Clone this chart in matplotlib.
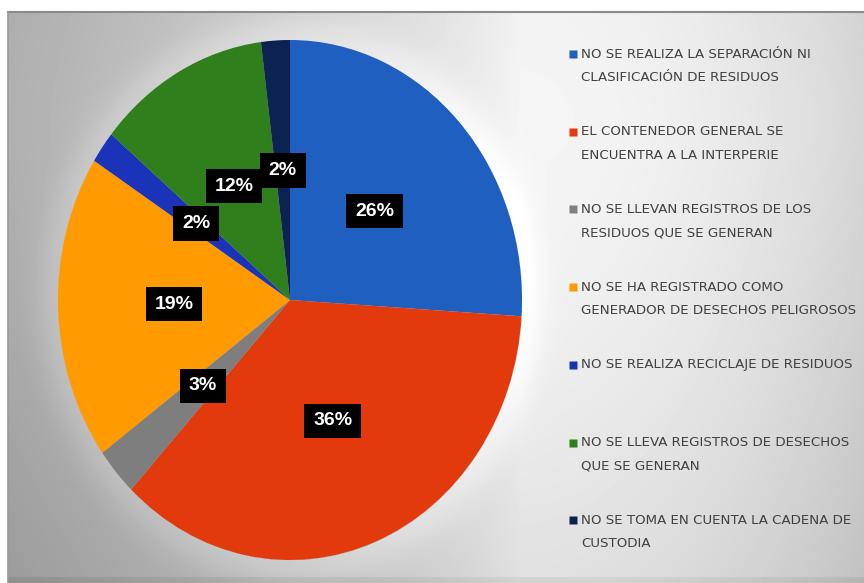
import matplotlib
matplotlib.use("Agg")
import matplotlib.pyplot as plt
import numpy as np

W, H = 864, 583

# data
labels = [
    "NO SE REALIZA LA SEPARACIÓN NI\nCLASIFICACIÓN DE RESIDUOS",
    "EL CONTENEDOR GENERAL SE\nENCUENTRA A LA INTERPERIE",
    "NO SE LLEVAN REGISTROS DE LOS\nRESIDUOS QUE SE GENERAN",
    "NO SE HA REGISTRADO COMO\nGENERADOR DE DESECHOS PELIGROSOS",
    "NO SE REALIZA RECICLAJE DE RESIDUOS",
    "NO SE LLEVA REGISTROS DE DESECHOS\nQUE SE GENERAN",
    "NO SE TOMA EN CUENTA LA CADENA DE\nCUSTODIA",
]
pcts = [26, 36, 3, 19, 2, 12, 2]

colors = ["#1F5FC0", "#E23A0C", "#7E7E7E", "#FF9A00", "#1A33B8", "#2F7F1C", "#0C2352"]

fig = plt.figure(figsize=(W / 100, H / 100), dpi=100)
fig.patch.set_facecolor("white")

# ── background panel: grey gradient, lightest just right of the pie top
x0, y0 = 8, 12
cx, cy, rx, ry = 290, 300, 232, 260
bg = fig.add_axes([x0 / W, 0, (W - x0) / W, (H - y0) / H])
xx, yy = np.meshgrid(np.arange(x0, W), np.arange(y0, H))
left = np.clip((520 - xx) / 510, 0, None)
right = np.clip((xx - 520) / 340, 0, None)
img = 0.96 - 0.27 * left ** 0.8 - 0.12 * right ** 2 - 0.08 * np.abs((yy - 120) / 460) ** 1.5
d = np.hypot((xx - cx) / rx, (yy - cy) / ry)
img += 0.06 * np.exp(-((d - 1.0) / 0.10) ** 2) * (d > 1)
img[yy > 576] -= 0.05
img = np.clip(img, 0, 1)
bg.imshow(img, cmap="gray", vmin=0, vmax=1, aspect="auto", interpolation="bilinear")
bg.set_axis_off()
fig.add_artist(plt.Line2D([x0 / W, 1], [1 - y0 / H, 1 - y0 / H], color="#8a8a8a", lw=1.5))
fig.add_artist(plt.Line2D([x0 / W, x0 / W], [0, 1 - y0 / H], color="#9a9a9a", lw=1.2))

# ── pie ────────────────────────────────────────────────────────────────────
ax = fig.add_axes([(cx - rx) / W, (H - cy - ry) / H, 2 * rx / W, 2 * ry / H])
wedges, _, autotexts = ax.pie(pcts, colors=colors, startangle=90, counterclock=False,
                              autopct="%.0f%%", pctdistance=0.5,
                              wedgeprops=dict(linewidth=0))
ax.set_aspect("auto")
ax.set_xlim(-1, 1)
ax.set_ylim(-1, 1)
for t in autotexts:
    t.set(color="white", fontsize=14, fontweight="bold", family="Liberation Sans")
    t.set_bbox(dict(boxstyle="square,pad=0.45", fc="black", ec="none"))

# ── legend (manual, equal slots) ──────────────────────────────────────────
lg = fig.add_axes([0, 0, 1, 1])
lg.set_xlim(0, W)
lg.set_ylim(H, 0)
lg.set_axis_off()
slot = 77.7
for i, (lab, c) in enumerate(zip(labels, colors)):
    y = 54 + i * slot
    lg.plot(573, y, marker="s", ms=5.5, color=c, mec="none")
    for j, line in enumerate(lab.split("\n")):
        lg.text(581, y + j * 23.5, line, ha="left", va="center", color="#404040",
                fontsize=9.6, family="DejaVu Sans")

fig.savefig("out.png", dpi=100)
